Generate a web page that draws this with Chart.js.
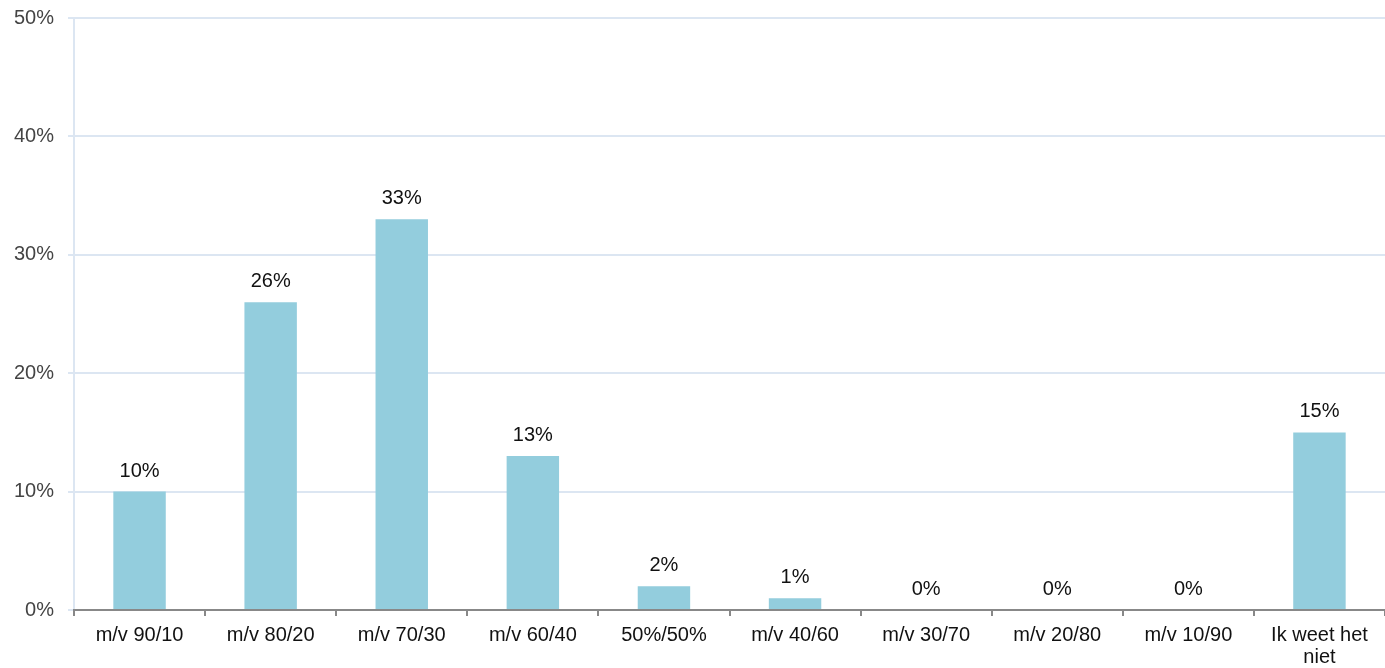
<!DOCTYPE html>
<html><head><meta charset="utf-8">
<script src="https://cdn.jsdelivr.net/npm/chart.js@4"></script>
<style>html,body{margin:0;padding:0;background:#fff}#wrap{width:1385px;height:668px}</style>
</head><body><div id="wrap"><canvas id="c"></canvas></div>
<script>
const categories = ['m/v 90/10','m/v 80/20','m/v 70/30','m/v 60/40','50%/50%','m/v 40/60','m/v 30/70','m/v 20/80','m/v 10/90',['Ik weet het','niet']];
const values = [10,26,33,13,2,1,0,0,0,15];
const yTicks = [0,10,20,30,40,50];
const FONT = '"Liberation Sans", Arial, sans-serif';

const labelPlugin = {
  id:'vals',
  afterDatasetsDraw(chart){
    const ctx = chart.ctx;
    const meta = chart.getDatasetMeta(0);
    ctx.save();
    ctx.font = '20px ' + FONT;
    ctx.fillStyle = '#111';
    ctx.textAlign = 'center';
    ctx.textBaseline = 'alphabetic';
    meta.data.forEach((bar,i)=>{
      ctx.fillText(values[i]+'%', bar.x, bar.y - 15);
    });
    ctx.restore();
  }
};

new Chart(document.getElementById('c'),{
  type:'bar',
  data:{labels:categories,datasets:[{data:values,backgroundColor:'#93CDDD',barPercentage:0.4,categoryPercentage:1}]},
  options:{
    responsive:true,maintainAspectRatio:false,animation:false,
    layout:{padding:{top:18,right:0,left:0,bottom:0}},
    plugins:{legend:{display:false},tooltip:{enabled:false}},
    scales:{
      y:{min:0,max:50,
        afterFit(s){s.width=74;s.paddingTop=0;s.paddingBottom=0;},
        afterBuildTicks(s){s.ticks=yTicks.map(v=>({value:v}));},
        ticks:{callback:v=>v+'%',color:'#444',font:{size:20,family:FONT},padding:14},
        grid:{color:'#DCE6F2',lineWidth:2,tickLength:6},
        border:{color:'#DCE6F2',width:2}
      },
      x:{
        afterFit(s){s.height=58;s.paddingLeft=0;s.paddingRight=0;},
        ticks:{color:'#111',font:{size:20,family:FONT,lineHeight:1.1},padding:8,maxRotation:0,autoSkip:false},
        grid:{offset:true,drawOnChartArea:false,drawTicks:true,tickLength:6,color:'#888',lineWidth:2},
        border:{color:'#888',width:2}
      }
    }
  },
  plugins:[labelPlugin]
});
</script></body></html>
